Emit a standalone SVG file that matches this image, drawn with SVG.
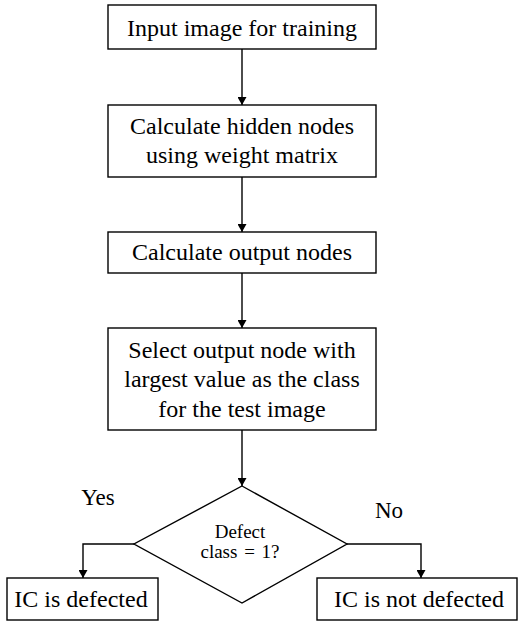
<svg xmlns="http://www.w3.org/2000/svg" width="519" height="622" viewBox="0 0 519 622">
<style>
.box{fill:#fff;stroke:#000;stroke-width:1.4}
.t{font-family:'Liberation Serif','Times New Roman',serif;font-size:24px;fill:#000;text-anchor:middle}
.y{font-family:'Liberation Serif','Times New Roman',serif;font-size:23px;fill:#000;text-anchor:middle}
.s{font-family:'Liberation Serif','Times New Roman',serif;font-size:19px;fill:#000;text-anchor:middle}
.c{fill:none;stroke:#000;stroke-width:1.4}
</style>
<defs>
<marker id="ah" viewBox="0 0 10 10" refX="10" refY="5" markerWidth="8" markerHeight="9" markerUnits="userSpaceOnUse" orient="auto" preserveAspectRatio="none">
<path d="M0,0 L10,5 L0,10 z" fill="#000"/>
</marker>
</defs>
<rect width="519" height="622" fill="#fff"/>
<g id="connectors">
<line class="c" x1="242" y1="49" x2="242" y2="105" marker-end="url(#ah)"/>
<line class="c" x1="242" y1="177" x2="242" y2="232" marker-end="url(#ah)"/>
<line class="c" x1="242" y1="273" x2="242" y2="328" marker-end="url(#ah)"/>
<line class="c" x1="242" y1="430" x2="242" y2="486" marker-end="url(#ah)"/>
<polyline class="c" points="134,544 83,544 83,578" marker-end="url(#ah)"/>
<polyline class="c" points="347,544 421,544 421,578" marker-end="url(#ah)"/>
<text class="y" x="98" y="505">Yes</text>
<text class="y" x="389" y="518">No</text>
</g>
<g id="n1">
<rect class="box" x="108" y="5" width="268" height="44"/>
<text class="t" x="242" y="36">Input image for training</text>
</g>
<g id="n2">
<rect class="box" x="108" y="105" width="268" height="72"/>
<text class="t" x="242" y="134">Calculate hidden nodes</text>
<text class="t" x="242" y="163">using weight matrix</text>
</g>
<g id="n3">
<rect class="box" x="108" y="232" width="268" height="41"/>
<text class="t" x="242" y="260">Calculate output nodes</text>
</g>
<g id="n4">
<rect class="box" x="108" y="328" width="268" height="102"/>
<text class="t" x="242" y="358">Select output node with</text>
<text class="t" x="242" y="387">largest value as the class</text>
<text class="t" x="242" y="417">for the test image</text>
</g>
<g id="n5">
<polygon class="box" points="242,486 347,544 242,603 134,544"/>
<text class="s" x="240" y="538">Defect</text>
<text class="s" x="240" y="558" word-spacing="2">class = 1?</text>
</g>
<g id="n6">
<rect class="box" x="7" y="578" width="151" height="42"/>
<text class="t" x="81" y="607">IC is defected</text>
</g>
<g id="n7">
<rect class="box" x="317" y="578" width="200" height="42"/>
<text class="t" x="419" y="607">IC is not defected</text>
</g>
</svg>
